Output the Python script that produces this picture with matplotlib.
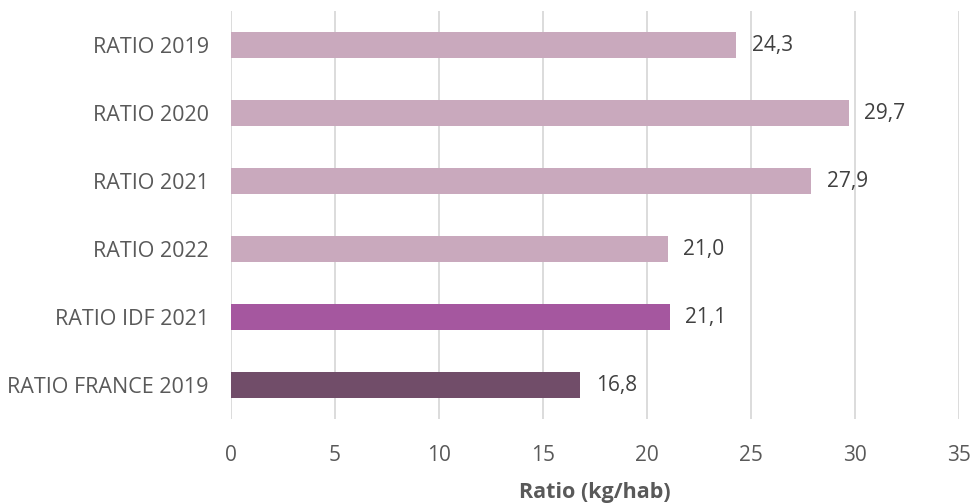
import matplotlib.pyplot as plt

# donnees
categories = ['RATIO 2019', 'RATIO 2020', 'RATIO 2021', 'RATIO 2022', 'RATIO IDF 2021', 'RATIO FRANCE 2019']
valeurs = [24.3, 29.7, 27.9, 21.0, 21.1, 16.8]
couleurs = ['#C9A9BD', '#C9A9BD', '#C9A9BD', '#C9A9BD', '#A5579F', '#714D69']
xticks = [0, 5, 10, 15, 20, 25, 30, 35]

plt.rcParams['font.family'] = ['Open Sans', 'DejaVu Sans']
fs = 15

fig = plt.figure(figsize=(9.73, 5.03), dpi=100)
ax = fig.add_axes([0.2374, 0.167, 0.7482, 0.811])

y = list(range(len(categories)))
ax.barh(y, valeurs, height=0.38, color=couleurs, zorder=3)

for yi, v in zip(y, valeurs):
    ax.text(v + 0.75, yi, f'{v:.1f}'.replace('.', ','), va='center', ha='left',
            fontsize=fs, color='#404040')

ax.set_yticks(y)
ax.set_yticklabels(categories, fontsize=15.5, color='#595959')
ax.set_ylim(5.5, -0.5)
ax.set_xlim(0, 35)
ax.set_xticks(xticks)
ax.set_xticklabels([str(t) for t in xticks], fontsize=fs, color='#595959')
ax.tick_params(axis='both', length=0)
ax.tick_params(axis='x', pad=19)
ax.tick_params(axis='y', pad=16)
ax.grid(axis='x', color='#D9D9D9', linewidth=1.3, zorder=0)
for s in ax.spines.values():
    s.set_visible(False)

ax.set_xlabel('Ratio (kg/hab)', fontsize=15.5, fontweight='bold', color='#595959', labelpad=11)

fig.savefig('out.png', dpi=100)
